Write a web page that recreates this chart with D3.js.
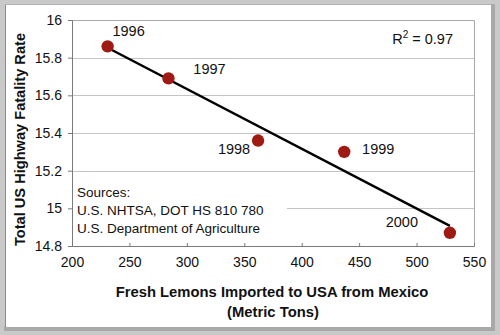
<!DOCTYPE html>
<html>
<head>
<meta charset="utf-8">
<script src="https://cdn.jsdelivr.net/npm/d3@7"></script>
<style>
  html, body { margin: 0; padding: 0; background: #fff; }
  svg { display: block; font-family: "Liberation Sans", Arial, sans-serif; }
</style>
</head>
<body>
<div id="chart"></div>
<script>
// data
var years = ["1996", "1997", "1998", "1999", "2000"];
var lemons = [231, 284, 362, 437, 529];          // metric tons
var fatality = [15.86, 15.69, 15.36, 15.30, 14.87];
var xTicks = [200, 250, 300, 350, 400, 450, 500, 550];
var yTicks = [14.8, 15, 15.2, 15.4, 15.6, 15.8, 16];
var sources = ["Sources:", "U.S. NHTSA, DOT HS 810 780", "U.S. Department of Agriculture"];
var rSquared = "0.97";

// label nudges (dx, dy) relative to each point
var labelOffsets = [[21, -10], [41, -4], [-24, 13], [34, 2], [-48, -6]];

var width = 500, height = 335;
var plot = {left: 72, right: 474, top: 20, bottom: 246};

var svg = d3.select("#chart").append("svg")
    .attr("width", width)
    .attr("height", height);

// frame
svg.append("rect").attr("width", width).attr("height", height).attr("fill", "#c9c9c9");
svg.append("rect").attr("x", 490).attr("y", 4).attr("width", 5).attr("height", 327).attr("fill", "#a9a9a9");
svg.append("rect").attr("x", 4).attr("y", 326).attr("width", 491).attr("height", 5).attr("fill", "#a9a9a9");
svg.append("rect").attr("x", 5).attr("y", 4).attr("width", 486).attr("height", 323).attr("fill", "#fff");
svg.append("line").attr("x1", 5.5).attr("x2", 5.5).attr("y1", 4).attr("y2", 327)
    .attr("stroke", "#8c8c8c").attr("stroke-width", 1);
svg.append("line").attr("x1", 5).attr("x2", 491).attr("y1", 4.5).attr("y2", 4.5)
    .attr("stroke", "#b0b0b0").attr("stroke-width", 1);

var x = d3.scaleLinear().domain([200, 550]).range([plot.left, plot.right]);
var y = d3.scaleLinear().domain([14.8, 16]).range([plot.bottom, plot.top]);

// gridlines
svg.append("g").selectAll("line")
    .data(yTicks.slice(1))
    .enter().append("line")
    .attr("x1", plot.left).attr("x2", plot.right)
    .attr("y1", function(d) { return Math.round(y(d)) + 0.5; })
    .attr("y2", function(d) { return Math.round(y(d)) + 0.5; })
    .attr("stroke", "#c4c4c4");

// plot border top / right
svg.append("path")
    .attr("d", "M" + plot.left + "," + (plot.top + 0.5) + "H" + (plot.right + 0.5) + "V" + plot.bottom)
    .attr("fill", "none").attr("stroke", "#a8a8a8");

// sources box (white, hides gridlines)
svg.append("rect")
    .attr("x", plot.left + 1).attr("y", 181)
    .attr("width", 214).attr("height", 63)
    .attr("fill", "#fff");
svg.append("g").selectAll("text")
    .data(sources)
    .enter().append("text")
    .attr("x", 77)
    .attr("y", function(d, i) { return 197 + i * 18; })
    .attr("font-size", 13.5)
    .attr("fill", "#111")
    .text(function(d) { return d; });

// axes
var xAxis = svg.append("g")
    .attr("transform", "translate(0," + plot.bottom + ")")
    .call(d3.axisBottom(x).tickValues(xTicks).tickSize(-3).tickPadding(11).tickFormat(d3.format("d")));
var yAxis = svg.append("g")
    .attr("transform", "translate(" + plot.left + ",0)")
    .call(d3.axisLeft(y).tickValues(yTicks).tickSize(4).tickPadding(6).tickFormat(function(d) { return d3.format("")(+d.toFixed(1)); }));

[xAxis, yAxis].forEach(function(ax) {
    ax.select(".domain").attr("stroke", "#7a7a7a");
    ax.selectAll(".tick line").attr("stroke", "#7a7a7a");
    ax.selectAll("text")
        .attr("font-size", 14)
        .attr("font-family", "'Liberation Sans', Arial, sans-serif")
        .attr("fill", "#111");
});

// linear regression for trend line
var mx = d3.mean(lemons), my = d3.mean(fatality);
var sxy = d3.sum(lemons, function(v, i) { return (v - mx) * (fatality[i] - my); });
var sxx = d3.sum(lemons, function(v) { return (v - mx) * (v - mx); });
var slope = sxy / sxx, icpt = my - slope * mx;
var x0 = d3.min(lemons), x1 = d3.max(lemons);

svg.append("line")
    .attr("x1", x(x0)).attr("y1", y(icpt + slope * x0))
    .attr("x2", x(x1)).attr("y2", y(icpt + slope * x1))
    .attr("stroke", "#000").attr("stroke-width", 2.5);

// points
svg.append("g").selectAll("circle")
    .data(lemons)
    .enter().append("circle")
    .attr("cx", function(d) { return x(d); })
    .attr("cy", function(d, i) { return y(fatality[i]); })
    .attr("r", 6.2)
    .attr("fill", "#9e1a12");

// year labels
svg.append("g").selectAll("text")
    .data(years)
    .enter().append("text")
    .attr("x", function(d, i) { return x(lemons[i]) + labelOffsets[i][0]; })
    .attr("y", function(d, i) { return y(fatality[i]) + labelOffsets[i][1]; })
    .attr("text-anchor", "middle")
    .attr("font-size", 14.5)
    .attr("fill", "#111")
    .text(function(d) { return d; });

// R squared
var rt = svg.append("text")
    .attr("x", 453).attr("y", 44)
    .attr("text-anchor", "end")
    .attr("font-size", 14.5)
    .attr("fill", "#111");
rt.append("tspan").text("R");
rt.append("tspan").attr("dy", -6).attr("font-size", 10).text("2");
rt.append("tspan").attr("dy", 6).text(" = " + rSquared);

// axis titles
svg.append("text")
    .attr("x", 272).attr("y", 297)
    .attr("text-anchor", "middle")
    .attr("font-size", 14.8).attr("font-weight", "bold")
    .attr("fill", "#111")
    .text("Fresh Lemons Imported to USA from Mexico");
svg.append("text")
    .attr("x", 273).attr("y", 317)
    .attr("text-anchor", "middle")
    .attr("font-size", 14.8).attr("font-weight", "bold")
    .attr("fill", "#111")
    .text("(Metric Tons)");

// y title runs past the top of the chart area and gets cut, as in the original
svg.append("clipPath").attr("id", "ytclip")
    .append("rect").attr("x", 0).attr("y", 31).attr("width", 40).attr("height", 260);
svg.append("g")
    .attr("clip-path", "url(#ytclip)")
    .append("text")
    .attr("transform", "translate(25,246) rotate(-90)")
    .attr("text-anchor", "start")
    .attr("font-size", 14.6).attr("font-weight", "bold")
    .attr("fill", "#111")
    .text("Total US Highway Fatality Rate");
</script>
</body>
</html>
